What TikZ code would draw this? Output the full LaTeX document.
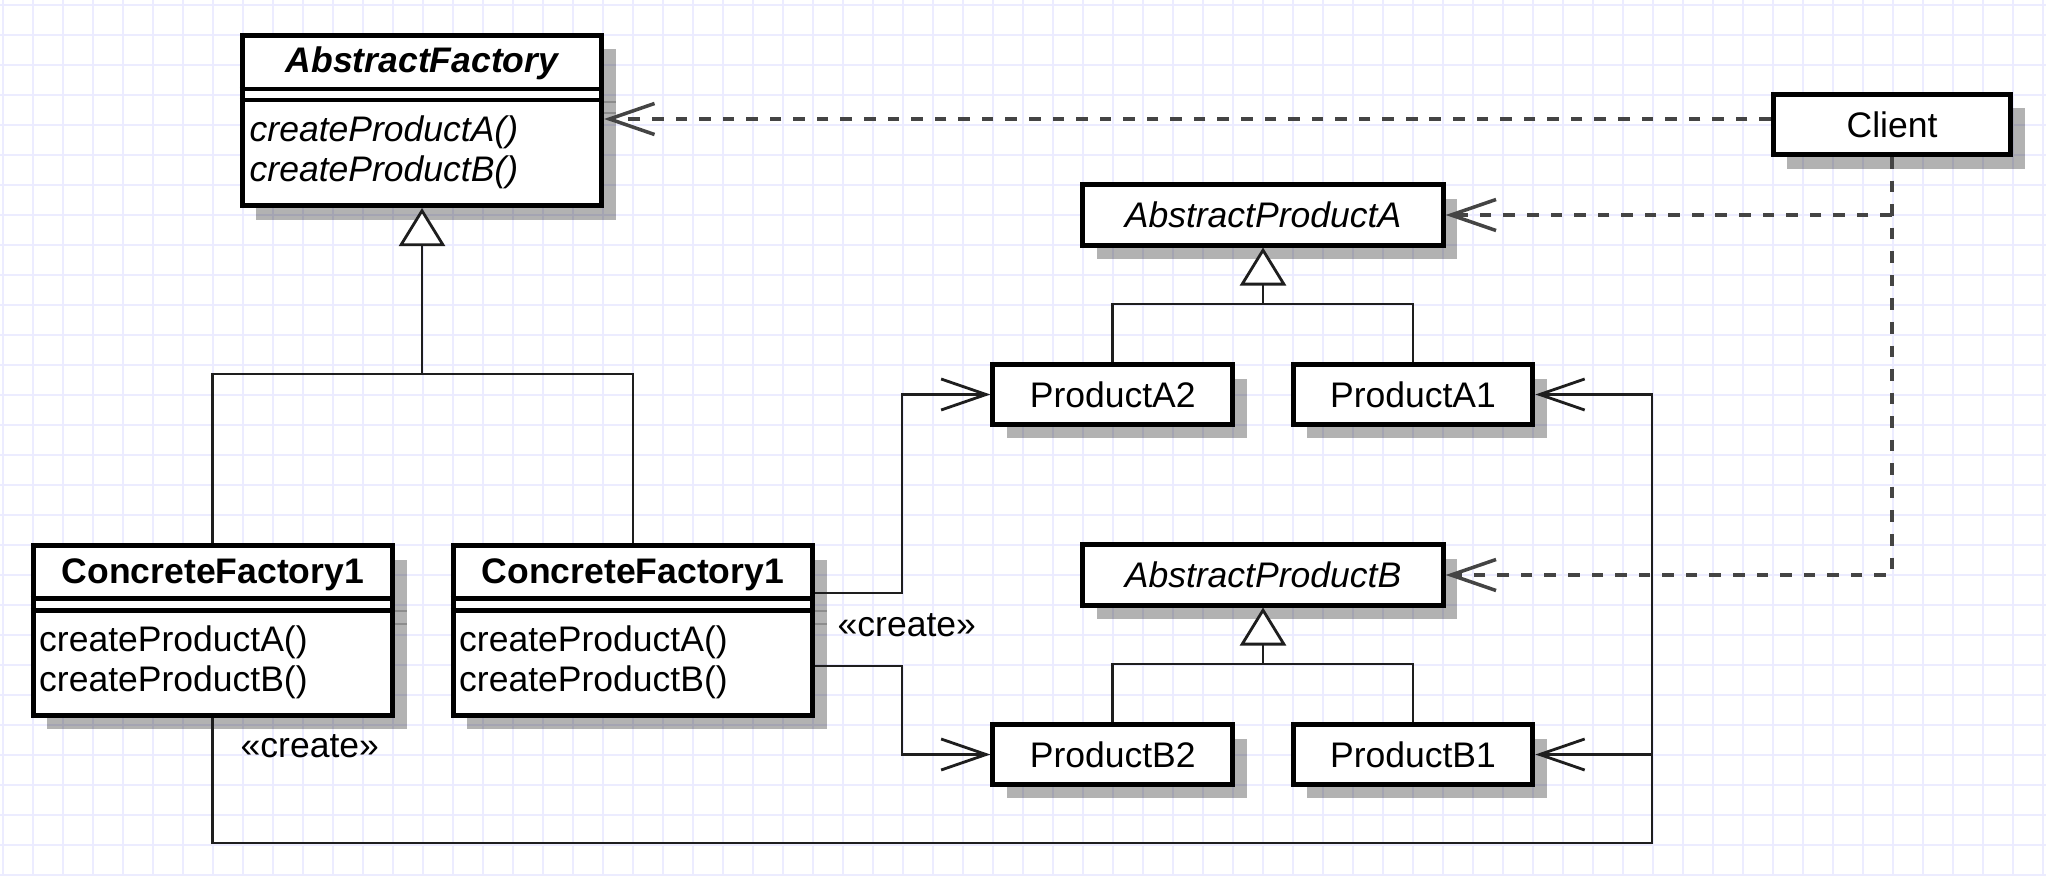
\documentclass[tikz,border=0pt]{standalone}
\usepackage{fontspec}
\setmainfont{Liberation Sans}
\usetikzlibrary{arrows.meta,shadows}

\definecolor{gridcol}{RGB}{236,236,255}
\definecolor{depcol}{RGB}{68,68,68}
\definecolor{linkcol}{RGB}{30,30,30}
\newcommand\umlsize{\fontsize{10.1pt}{12pt}\selectfont}

\begin{document}
\begin{tikzpicture}[x=0.01cm, y=-0.01cm,
  every node/.style={font=\umlsize, inner sep=0pt},
  box/.style={draw=black, fill=white, line width=1.42pt, rectangle,
    drop shadow={shadow xshift=1.4mm, shadow yshift=-1.4mm, fill=black, opacity=.3}},
  sep/.style={draw=black, line width=1.42pt},
  stub/.style={draw=black!45, line width=0.6pt},
  gridline/.style={draw=gridcol, line width=0.5pt},
  title/.style={anchor=base, font=\umlsize\bfseries},
  method/.style={anchor=base west},
  link/.style={draw=linkcol, line width=0.8pt},
  assoc/.style={link, -{Straight Barb[length=4.5mm, width=3.1mm]}},
  inh/.style={link, -{Triangle[length=3.8mm, width=4.6mm, fill=white]}},
  dep/.style={draw=depcol, line width=1pt, dash pattern=on 3.3pt off 3.4pt,
    -{Straight Barb[length=4.5mm, width=3.1mm]}}
]
\useasboundingbox (0,0) rectangle (2046,876);
\fill[white] (0,0) rectangle (2046,876);

% background grid
\foreach \gx in {3.3,33.3,...,2046} \draw[gridline] (\gx,0) -- (\gx,876);
\foreach \gy in {5,35,...,876} \draw[gridline] (0,\gy) -- (2046,\gy);

% factory classes (three compartments each)
\node[box, minimum width=3.59cm, minimum height=1.70cm] (af) at (422,120.5) {};
\node[box, minimum width=3.593cm, minimum height=1.692cm] (cfl) at (212.9,630.4) {};
\node[box, minimum width=3.593cm, minimum height=1.692cm] (cfr) at (632.9,630.4) {};

\foreach \n/\a/\b in {af/89/100, cfl/598/610, cfr/598/610} {
  \draw[sep] (\n.west |- 0,\a) -- (\n.east |- 0,\a);
  \draw[sep] (\n.west |- 0,\b) -- (\n.east |- 0,\b);
}
% separator shadows on the right edge
\foreach \n/\a/\b in {af/102/113, cfl/611/624, cfr/611/624} {
  \draw[stub] (\n.east |- 0,\a) -- ++(12,0);
  \draw[stub] (\n.east |- 0,\b) -- ++(12,0);
}

\node[title, font=\umlsize\bfseries\itshape] (aft) at (422,73) {AbstractFactory};
\node[method, font=\umlsize\itshape] (afm1) at (249,142) {createProductA()};
\node[method, font=\umlsize\itshape] (afm2) at (249,182) {createProductB()};

\node[title] (cflt) at (212.9,583) {ConcreteFactory1};
\node[method] (cflm1) at (38.5,651) {createProductA()};
\node[method] (cflm2) at (38.5,691) {createProductB()};

\node[title] (cfrt) at (632.9,583) {ConcreteFactory1};
\node[method] (cfrm1) at (458.5,651) {createProductA()};
\node[method] (cfrm2) at (458.5,691) {createProductB()};

% client and product classes
\node[box, minimum width=2.37cm, minimum height=0.60cm] (client) at (1892,124.5) {Client};
\node[box, minimum width=3.60cm, minimum height=0.60cm] (apa) at (1263,215) {\textit{AbstractProductA}};
\node[box, minimum width=3.60cm, minimum height=0.60cm] (apb) at (1263,575) {\textit{AbstractProductB}};
\node[box, minimum width=2.395cm, minimum height=0.59cm] (pa2) at (1112.75,394.5) {ProductA2};
\node[box, minimum width=2.395cm, minimum height=0.59cm] (pa1) at (1413,394.5) {ProductA1};
\node[box, minimum width=2.395cm, minimum height=0.59cm] (pb2) at (1112.75,754.5) {ProductB2};
\node[box, minimum width=2.395cm, minimum height=0.59cm] (pb1) at (1413,754.5) {ProductB1};

% generalizations
\coordinate (afj) at (422,374);
\draw[link] (cfl.north) |- (afj) -| (cfr.north);
\draw[inh] (afj) -- (af.south);

\coordinate (aj) at (1263,304);
\draw[link] (pa2.north) |- (aj) -| (pa1.north);
\draw[inh] (aj) -- (apa.south);

\coordinate (bj) at (1263,664);
\draw[link] (pb2.north) |- (bj) -| (pb1.north);
\draw[inh] (bj) -- (apb.south);

% client dependencies
\draw[dep] (client.west |- 0,119) -- (af.east |- 0,119);
\draw[dep] (client.south) |- (apb.east);
\draw[dep] (client.south |- apa.east) -- (apa.east);

% create associations
\coordinate (ka) at (902,593);
\coordinate (kb) at (902,666);
\draw[assoc] (cfr.east |- ka) -- (ka) |- (pa2.west);
\draw[assoc] (cfr.east |- kb) -- (kb) |- (pb2.west);

\coordinate (rail) at (1652,843);
\draw[assoc] (cfl.south) |- (rail) |- (pa1.east);
\draw[assoc] (pb1.east -| rail) -- (pb1.east);

\node[anchor=base west] (cr1) at (837,636) {«create»};
\node[anchor=base west] (cr2) at (240,757) {«create»};
\end{tikzpicture}
\end{document}
